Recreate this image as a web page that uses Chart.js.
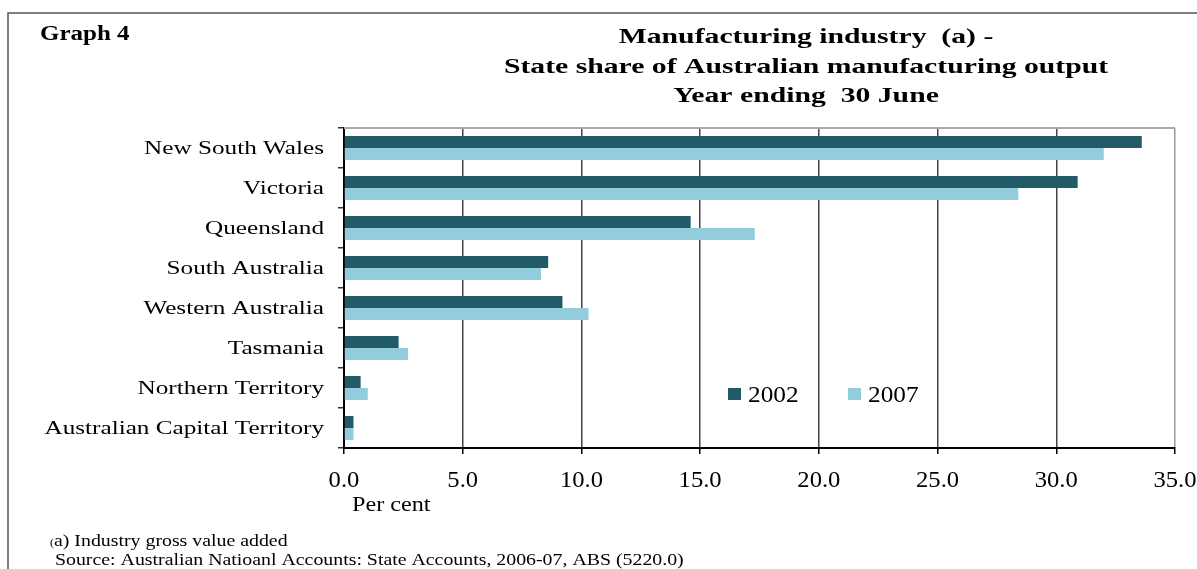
<!DOCTYPE html>
<html>
<head>
<meta charset="utf-8">
<script src="https://cdn.jsdelivr.net/npm/chart.js@4/dist/chart.umd.min.js"></script>
<style>
  html, body { margin: 0; padding: 0; background: #fff; }
  #wrap { width: 1197px; height: 569px; position: relative; }
</style>
</head>
<body>
<div id="wrap"><canvas id="chart"></canvas></div>
<script>
// State share of manufacturing output, per cent
let states = ["New South Wales", "Victoria", "Queensland", "South Australia",
    "Western Australia", "Tasmania", "Northern Territory", "Australian Capital Territory"];
let share2002 = [33.6, 30.9, 14.6, 8.6, 9.2, 2.3, 0.7, 0.4];
let share2007 = [32.0, 28.4, 17.3, 8.3, 10.3, 2.7, 1.0, 0.4];
let years = ["2002", "2007"];
let titleLines = ["Manufacturing industry  (a) -",
    "State share of Australian manufacturing output",
    "Year ending  30 June"];

let dark = "#225a68";
let light = "#93ccdc";
let serif = "'Liberation Serif', 'Times New Roman', serif";

// text drawn a bit wider than the font's natural width
function wideText(ctx, text, x, y, sx, align) {
    let w = ctx.measureText(text).width * sx;
    let left = x;
    if (align === "right") left = x - w;
    if (align === "center") left = x - w / 2;
    ctx.save();
    ctx.translate(left, y);
    ctx.scale(sx, 1);
    ctx.textAlign = "left";
    ctx.fillText(text, 0, 0);
    ctx.restore();
    return w;
}

// frame, titles, axis labels, legend and footnotes
let decorations = {
    id: "decorations",
    afterDraw(chart) {
        let ctx = chart.ctx;
        let area = chart.chartArea;
        let xs = chart.scales.x;
        let ys = chart.scales.y;
        ctx.save();

        // outer frame
        ctx.strokeStyle = "#555";
        ctx.lineWidth = 1.5;
        ctx.beginPath();
        ctx.moveTo(8, 600);
        ctx.lineTo(8, 13);
        ctx.lineTo(1197, 13);
        ctx.stroke();

        // top edge of plot
        ctx.strokeStyle = "#aaa";
        ctx.lineWidth = 2;
        ctx.beginPath();
        ctx.moveTo(area.left, area.top);
        ctx.lineTo(area.right, area.top);
        ctx.stroke();

        ctx.fillStyle = "#000";
        ctx.textBaseline = "alphabetic";

        ctx.font = "bold 20px " + serif;
        wideText(ctx, "Graph 4", 40, 40, 1.25, "left");

        ctx.font = "bold 22px " + serif;
        titleLines.forEach((line, i) => {
            wideText(ctx, line, 806, 43 + i * 29.5, 1.35, "center");
        });

        // category labels
        ctx.font = "18px " + serif;
        chart.data.labels.forEach((label, i) => {
            wideText(ctx, label, 324, ys.getPixelForTick(i) + 6, 1.4, "right");
        });

        // value labels
        ctx.font = "23px " + serif;
        xs.ticks.forEach((t, i) => {
            wideText(ctx, t.value.toFixed(1), xs.getPixelForTick(i), 487, 1.07, "center");
        });

        // legend
        let legendX = [728, 848];
        chart.data.datasets.forEach((ds, i) => {
            ctx.fillStyle = ds.backgroundColor;
            ctx.fillRect(legendX[i], 388, 13, 12);
            ctx.fillStyle = "#000";
            wideText(ctx, ds.label, legendX[i] + 20, 402, 1.1, "left");
        });

        ctx.font = "21px " + serif;
        wideText(ctx, "Per cent", 352, 511, 1.15, "left");

        // footnotes
        ctx.font = "10px " + serif;
        let w = wideText(ctx, "(", 50, 546, 1.2, "left");
        ctx.font = "16px " + serif;
        wideText(ctx, "a) Industry gross value added", 50 + w, 546, 1.24, "left");
        wideText(ctx, "Source: Australian Natioanl Accounts: State Accounts, 2006-07, ABS (5220.0)", 55, 565, 1.24, "left");
        ctx.restore();
    }
};

new Chart(document.getElementById("chart"), {
    type: "bar",
    data: {
        labels: states,
        datasets: [
            { label: years[0], data: share2002, backgroundColor: dark },
            { label: years[1], data: share2007, backgroundColor: light }
        ]
    },
    options: {
        indexAxis: "y",
        responsive: true,
        maintainAspectRatio: false,
        animation: false,
        categoryPercentage: 0.6,
        barPercentage: 1.0,
        layout: { padding: { top: 128, left: 0, right: 22, bottom: 81 } },
        plugins: {
            legend: { display: false },
            tooltip: { enabled: false }
        },
        scales: {
            x: {
                min: 0,
                max: 35,
                ticks: { stepSize: 5, display: false },
                grid: {
                    color: ctx => ctx.index === 7 ? "#999" : "#444",
                    lineWidth: 1.5,
                    tickColor: "#000",
                    tickLength: 6
                },
                border: { color: "#000", width: 2 },
                afterFit(scale) {
                    scale.height = 40;
                    scale.paddingLeft = 0;
                    scale.paddingRight = 0;
                }
            },
            y: {
                ticks: { display: false },
                grid: {
                    offset: true,
                    drawOnChartArea: false,
                    tickColor: "#333",
                    tickLength: 6,
                    lineWidth: 1.5
                },
                border: { color: "#000", width: 2 },
                afterFit(scale) {
                    scale.width = 344;
                    scale.paddingTop = 0;
                    scale.paddingBottom = 0;
                }
            }
        }
    },
    plugins: [decorations]
});
</script>
</body>
</html>
